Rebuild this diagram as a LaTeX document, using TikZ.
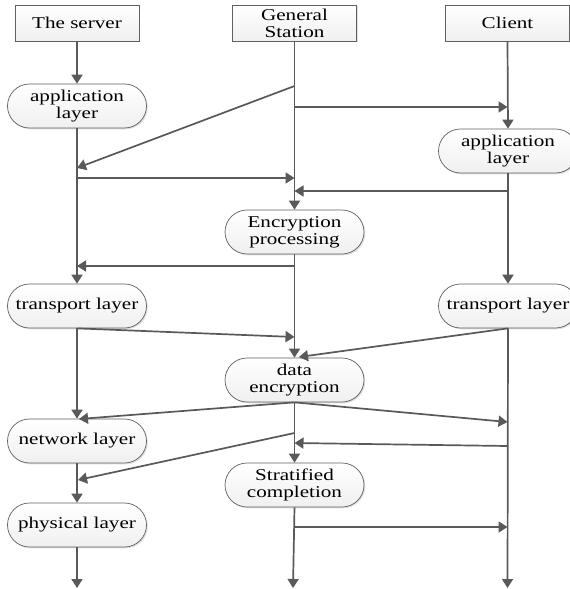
\documentclass[tikz,border=0pt]{standalone}
\usepackage{fontspec}
\setmainfont{Liberation Serif}[FakeStretch=1.28]
\usetikzlibrary{arrows.meta,shapes.misc,shadows}
\definecolor{lc}{HTML}{595959}
\definecolor{bc}{HTML}{606060}
\begin{document}
\begin{tikzpicture}[x=1pt,y=-1pt,
  conn/.style={draw=lc,line width=1.7pt},
  arr/.style={conn,-{Triangle[length=9pt,width=11pt]}},
  topbox/.style={rectangle,draw=bc,line width=0.7pt,minimum width=124pt,minimum height=36pt,
    inner sep=0pt,align=center,top color=white,bottom color=gray!12,
    drop shadow={shadow xshift=1.3pt,shadow yshift=-1.3pt,opacity=0.25},
    font=\fontsize{16.5}{17}\selectfont},
  layer/.style={rounded rectangle,draw=bc,line width=0.7pt,minimum width=139pt,minimum height=44pt,
    inner sep=0pt,align=center,top color=white,bottom color=gray!12,
    drop shadow={shadow xshift=1.3pt,shadow yshift=-1.3pt,opacity=0.25},
    font=\fontsize{16.5}{17}\selectfont}]
\clip (0,0) rectangle (570,589);
\fill[white] (0,0) rectangle (570,589);
% nodes
\node[topbox] (srv) at (77,23) {The server};
\node[topbox] (gs) at (294.5,23) {General\\Station};
\node[topbox] (cl) at (507.5,23) {Client};
\node[layer] (app1) at (77,106) {application\\layer};
\node[layer] (app2) at (508,151) {application\\layer};
\node[layer] (enc) at (294.5,232) {Encryption\\processing};
\node[layer] (tr1) at (77,306) {transport layer};
\node[layer] (tr2) at (508,306) {transport layer};
\node[layer] (de) at (294.5,380) {data\\encryption};
\node[layer] (net) at (77,441) {network layer};
\node[layer] (strat) at (294.5,485) {Stratified\\completion};
\node[layer] (phy) at (77,525) {physical layer};
% named points on the lines
\coordinate (m1) at (294.5,86);
\coordinate (m2) at (294.5,107);
\coordinate (r2) at (507.5,107);
\coordinate (l3) at (77,168);
\coordinate (l4) at (77,178);
\coordinate (m4) at (294.5,178);
\coordinate (r5) at (507.5,191);
\coordinate (m5) at (294.5,191);
\coordinate (m6) at (294.5,266);
\coordinate (l6) at (77,266);
\coordinate (m7) at (294.5,337);
\coordinate (m8) at (299,357);
\coordinate (l9) at (79,419);
\coordinate (r9) at (507.5,422);
\coordinate (r10) at (507.5,446);
\coordinate (m10) at (294.5,443);
\coordinate (m11) at (294.5,433);
\coordinate (l11) at (78,480);
\coordinate (m12) at (294.5,527);
\coordinate (r12) at (507.5,527);
\coordinate (bl) at (77,588);
\coordinate (bm) at (293,588);
\coordinate (br) at (507.5,588);
% vertical flows
\draw[arr] (srv.south) -- (app1.north);
\draw[arr] (cl.south) -- (app2.north);
\draw[arr] (gs.south) -- (enc.north);
\draw[arr] (app1.south) -- (tr1.north);
\draw[arr] (app2.south) -- (tr2.north);
\draw[arr] (enc.south) -- (de.north);
\draw[arr] (tr1.south) -- (net.north);
\draw[arr] (tr2.south) -- (br);
\draw[arr] (de.south) -- (strat.north);
\draw[arr] (net.south) -- (phy.north);
\draw[arr] (strat.south) -- (bm);
\draw[arr] (phy.south) -- (bl);
% cross arrows
\draw[arr] (m1) -- (l3);
\draw[arr] (m2) -- (r2);
\draw[arr] (l4) -- (m4);
\draw[arr] (r5) -- (m5);
\draw[arr] (m6) -- (l6);
\draw[arr] (tr1.south) -- (m7);
\draw[arr] (tr2.south) -- (m8);
\draw[arr] (de.south) -- (l9);
\draw[arr] (de.south) -- (r9);
\draw[arr] (r10) -- (m10);
\draw[arr] (m11) -- (l11);
\draw[arr] (m12) -- (r12);
\end{tikzpicture}
\end{document}
